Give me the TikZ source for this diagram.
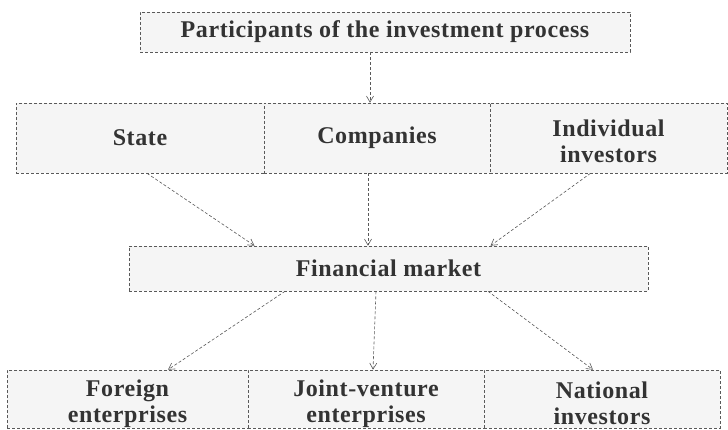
\documentclass[tikz,border=0pt]{standalone}
\usepackage{fontspec}
\setmainfont{Liberation Serif}[LetterSpace=2.5]
\usetikzlibrary{arrows.meta}

\tikzset{
  cell/.style={draw=black!65, densely dashed, fill=black!4, text=black!80,
    font=\bfseries, align=center, inner sep=0pt, line width=0.6pt},
  lbl/.style={text=black!80, font=\bfseries, align=center, inner sep=0pt},
  arr/.style={draw=black!65, densely dashed, line width=0.6pt,
    -{Straight Barb[length=6pt,width=7pt,line width=0.6pt]}}
}

\begin{document}
\begin{tikzpicture}[x=1pt, y=-1pt]

  \fontsize{24}{26}\selectfont

  \useasboundingbox (0,0) rectangle (728,430);

  % top
  \node[cell, minimum width=490pt, minimum height=40pt] (top) at (385,32)
    {Participants of the investment process};

  % participants
  \node[cell, minimum width=248pt, minimum height=70pt] (state) at (140,138) {State};
  \node[cell, minimum width=226pt, minimum height=70pt] (comp) at (377,138) {Companies};
  \node[cell, minimum width=237pt, minimum height=70pt] (indiv) at (608.5,138) {};
  \node[lbl, yshift=-3pt] (indiv-t) at (indiv) {Individual\\investors};

  % market
  \node[cell, minimum width=519pt, minimum height=45pt] (fin) at (388.5,268.5) {Financial market};

  % enterprises
  \node[cell, minimum width=241pt, minimum height=58pt] (foreign) at (127.5,399) {};
  \node[cell, minimum width=236pt, minimum height=58pt] (joint) at (366,399) {};
  \node[cell, minimum width=236pt, minimum height=58pt] (national) at (602,399) {};
  \node[lbl, yshift=-5pt] (foreign-t) at (foreign) {Foreign\\enterprises};
  \node[lbl, yshift=-5pt] (joint-t) at (joint) {Joint-venture\\enterprises};
  \node[lbl, yshift=-4pt] (national-t) at (national) {National\\investors};

  \coordinate (t) at ([xshift=-7pt]comp.north);
  \coordinate (c) at ([xshift=-9pt]comp.south);

  \draw[arr] (top.south -| t) -- (t); %% top->comp

  \draw[arr] ([xshift=7pt]state.south) -- ([xshift=-134pt]fin.north); %% state->fin
  \draw[arr] (c) -- (c |- fin.north); %% comp->fin
  \draw[arr] ([xshift=-18pt]indiv.south) -- ([xshift=102pt]fin.north); %% indiv->fin

  \draw[arr] ([xshift=-103.5pt]fin.south) -- ([xshift=40.5pt]foreign.north); %% fin->foreign
  \draw[arr] ([xshift=-12.5pt]fin.south) -- ([xshift=7pt]joint.north); %% fin->joint
  \draw[arr] ([xshift=99.5pt]fin.south) -- ([xshift=-9pt]national.north); %% fin->national

\end{tikzpicture}
\end{document}
